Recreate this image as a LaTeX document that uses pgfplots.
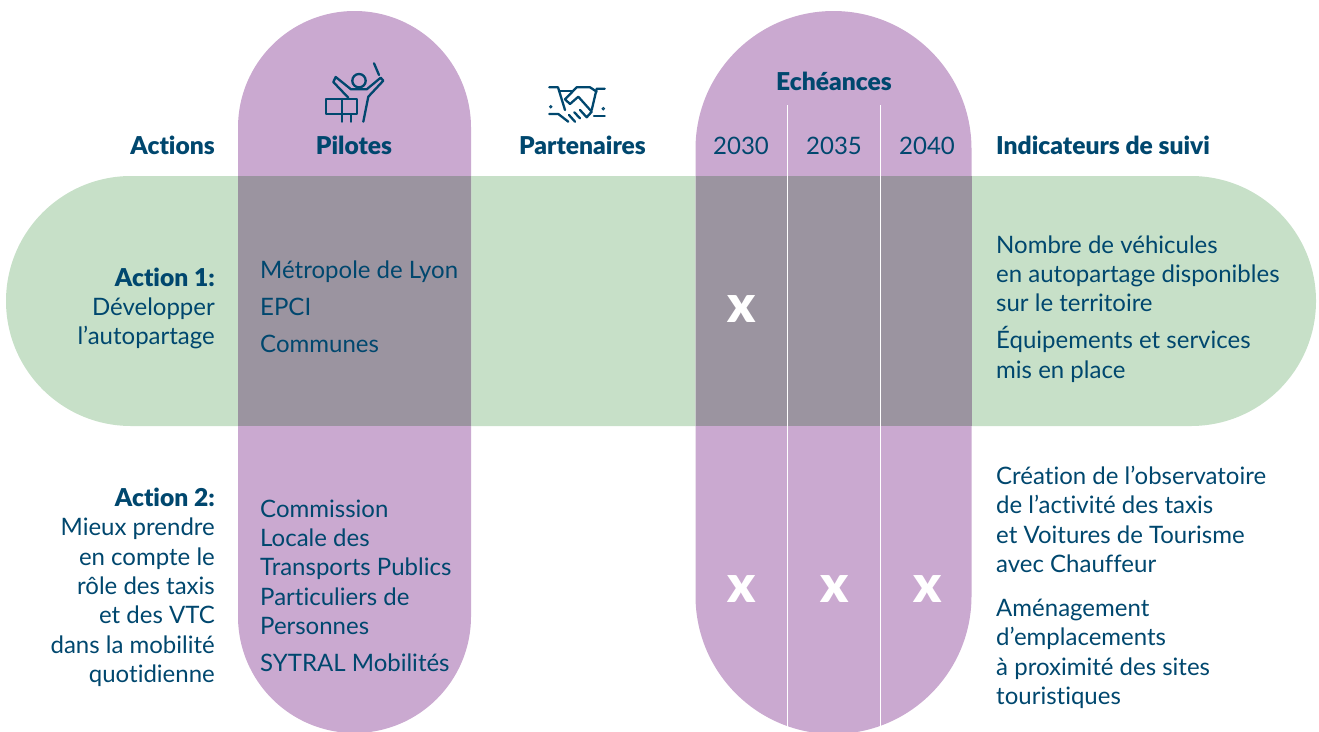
\documentclass[border=0pt]{standalone}
\usepackage{pgfplots}
\pgfplotsset{compat=1.18}
\usepackage{fontspec}
\setmainfont{Lato}[Ligatures=NoCommon]
\newfontfamily\heavy{Lato Black}[Ligatures=NoCommon]
\definecolor{ink}{HTML}{00476E}
\definecolor{grn}{HTML}{C7E0C8}
\definecolor{pur}{HTML}{CAA9D0}
\definecolor{ovl}{HTML}{9B94A0}
\tikzset{
 tx/.style={text=ink,font=\fontsize{24}{29}\selectfont,inner sep=0pt,yshift=-0.7pt},
 bd/.style={text=ink,font=\heavy\fontsize{24.6}{29}\selectfont,inner sep=0pt,yshift=-0.7pt},
 R/.style={anchor=base east},
 L/.style={anchor=base west},
 C/.style={anchor=base}}
\begin{document}
\begin{tikzpicture}
\useasboundingbox (0,0) rectangle (1319pt,731pt);
\begin{axis}[at={(0,0)},anchor=south west,x=1pt,y=1pt,xmin=0,xmax=1319,ymin=0,ymax=731,y dir=reverse,scale only axis,
  hide axis,clip=true]
\addplot[draw=none,fill=grn,rounded corners=125pt] coordinates {(6,176)(1316,176)(1316,426)(6,426)} --cycle;
\addplot[draw=none,fill=pur,rounded corners=116.5pt] coordinates {(238,11)(471,11)(471,733)(238,733)} --cycle;
\addplot[draw=none,fill=pur,rounded corners=138pt] coordinates {(695.5,11)(971.5,11)(971.5,734)(695.5,734)} --cycle;
\addplot[draw=none,fill=ovl] coordinates {(238,176)(471,176)(471,426)(238,426)} --cycle;
\addplot[draw=none,fill=ovl] coordinates {(695.5,176)(971.5,176)(971.5,426)(695.5,426)} --cycle;
\addplot[white,line width=1pt] coordinates {(787.5,105)(787.5,727)};
\addplot[white,line width=1pt] coordinates {(880.5,105)(880.5,727)};
\addplot[only marks,mark=none,nodes near coords={x},
  every node near coord/.style={anchor=center,text=white,font=\heavy\fontsize{52}{52}\selectfont,inner sep=0pt}]
  coordinates {(742,309)(742,589)(835,589)(928,589)};
% conductor icon
\pgfplotsset{icon/.style={ink,line width=2.3pt,line cap=round,line join=round,mark=none}}
\addplot[icon] coordinates {(374,63.3)(379,75)};
\addplot[icon] coordinates {(348.3,97.7)(333.3,82)(335.7,77)(351,89.3)(366.7,89.3)(380.7,77.7)(383.3,80.7)(368.3,96.7)(363.3,121.7)};
\addplot[icon] coordinates {(325.7,99)(357.3,99)(357.3,114.3)(325.7,114.3)} --cycle;
\addplot[icon] coordinates {(341.7,99)(341.7,121.7)};
\addplot[icon] coordinates {(351,114.3)(351,121.7)};
\addplot[only marks,mark=o,mark size=6.7pt,mark options={draw=ink,line width=2.3pt,fill=none}] coordinates {(359,80.7)};
% handshake icon
\addplot[icon] coordinates {(549.3,87.3)(558,87.3)(565,110)};
\addplot[icon] coordinates {(549.3,114)(558.3,114)(568.3,121.7)};
\addplot[icon] coordinates {(560,90.7)(573,90.7)};
\addplot[icon] coordinates {(596.7,91.7)(590,87.3)(576.7,87.3)(565,99.3)(570,104)(578.3,96.7)(591.7,111.7)(586.7,117.3)(580,110)};
\addplot[icon] coordinates {(604.7,88.7)(596.7,88.7)(591.7,110)};
\addplot[icon] coordinates {(604.7,116)(594,116)};
\addplot[icon] coordinates {(580,118.3)(574.3,112.3)};
\addplot[icon] coordinates {(575,121.7)(569,115)};
\addplot[only marks,mark=o,mark size=1.2pt,mark options={draw=ink,line width=1pt,fill=none}] coordinates {(550.7,106.7)(603.3,108.7)};
% texts
\node[R,bd] at (axis cs:215,154) {Actions};
\node[C,bd] at (axis cs:354,154) {Pilotes};
\node[C,bd] at (axis cs:582.5,154) {Partenaires};
\node[C,bd] at (axis cs:834,90) {Echéances};
\node[C,tx] at (axis cs:741,154) {2030};
\node[C,tx] at (axis cs:834,154) {2035};
\node[C,tx] at (axis cs:927,154) {2040};
\node[L,bd] at (axis cs:996,154) {Indicateurs de suivi};
\node[R,bd] at (axis cs:215,286) {Action 1:};
\node[R,tx] at (axis cs:215,315) {Développer};
\node[R,tx] at (axis cs:215,344) {l’autopartage};
\node[L,tx] at (axis cs:260,278) {Métropole de Lyon};
\node[L,tx] at (axis cs:260,315) {EPCI};
\node[L,tx] at (axis cs:260,352) {Communes};
\node[L,tx] at (axis cs:996,253) {Nombre de véhicules};
\node[L,tx] at (axis cs:996,282) {en autopartage disponibles};
\node[L,tx] at (axis cs:996,311) {sur le territoire};
\node[L,tx] at (axis cs:996,348) {Équipements et services};
\node[L,tx] at (axis cs:996,378) {mis en place};
\node[R,bd] at (axis cs:215,506) {Action 2:};
\node[R,tx] at (axis cs:215,535) {Mieux prendre};
\node[R,tx] at (axis cs:215,565) {en compte le};
\node[R,tx] at (axis cs:215,594) {rôle des taxis};
\node[R,tx] at (axis cs:215,623) {et des VTC};
\node[R,tx] at (axis cs:215,653) {dans la mobilité};
\node[R,tx] at (axis cs:215,682) {quotidienne};
\node[L,tx] at (axis cs:260,517) {Commission};
\node[L,tx] at (axis cs:260,546) {Locale des};
\node[L,tx] at (axis cs:260,575) {Transports Publics};
\node[L,tx] at (axis cs:260,605) {Particuliers de};
\node[L,tx] at (axis cs:260,634) {Personnes};
\node[L,tx] at (axis cs:260,671) {SYTRAL Mobilités};
\node[L,tx] at (axis cs:996,484) {Création de l’observatoire};
\node[L,tx] at (axis cs:996,513) {de l’activité des taxis};
\node[L,tx] at (axis cs:996,543) {et Voitures de Tourisme};
\node[L,tx] at (axis cs:996,572) {avec Chauffeur};
\node[L,tx] at (axis cs:996,616) {Aménagement};
\node[L,tx] at (axis cs:996,645) {d’emplacements};
\node[L,tx] at (axis cs:996,675) {à proximité des sites};
\node[L,tx] at (axis cs:996,704) {touristiques};
\end{axis}
\end{tikzpicture}
\end{document}
